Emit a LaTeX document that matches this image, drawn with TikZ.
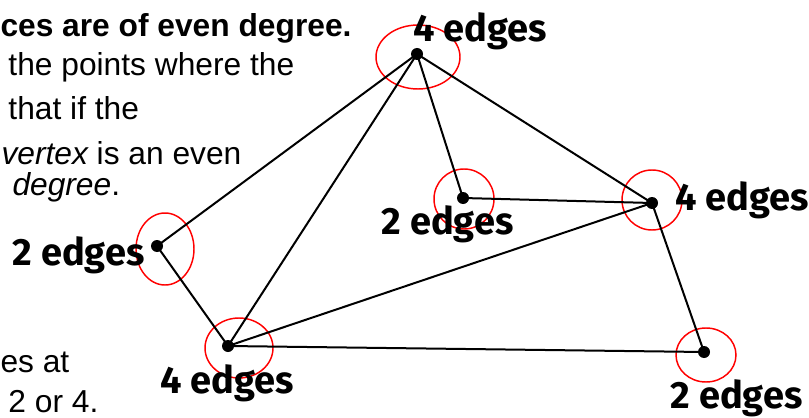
\documentclass[tikz,border=0pt]{standalone}
\usepackage{fontspec}
\setmainfont{Liberation Sans}
\newfontfamily\handfont{Fira Sans}

\tikzset{every picture/.style={line width=0.75pt}}
\tikzset{
  vdot/.style={circle,fill=black,inner sep=0pt,minimum size=9pt},
  edge/.style={line width=1.5pt},
  ring/.style={draw=red,line width=1.1pt},
  count/.style={anchor=base west,inner sep=0pt,font=\handfont\bfseries\fontsize{28.5}{33}\selectfont},
  prose/.style={anchor=base west,inner sep=0pt,font=\fontsize{23.8}{28}\selectfont}
}

\begin{document}
\begin{tikzpicture}[x=0.75pt,y=0.75pt,yscale=-1,xscale=1]
		\useasboundingbox (0,0) rectangle (809,417);
		
		% Text Node
		\node (l1) [prose] at (0,37) {\bfseries ces are of even degree.};
		% Text Node
		\node (l2) [prose] at (8,76) {the points where the};
		% Text Node
		\node (l3) [prose] at (8,120) {that if the};
		% Text Node
		\node (l4) [prose] at (1,164) {\itshape vertex\upshape{} is an even};
		% Text Node
		\node (l5) [prose] at (12,195) {\itshape degree\upshape.};
		% Text Node
		\node (l6) [prose] at (0,372) {es at};
		% Text Node
		\node (l7) [prose] at (8,412) {2 or 4.};
		
		%Ellipses
		\draw [ring] (418,57) ellipse (42 and 32);
		\draw [ring] (464,199) ellipse (30 and 30);
		\draw [ring] (652,200) ellipse (30 and 30);
		\draw [ring] (165,249) ellipse (29 and 36);
		\draw [ring] (239,348) ellipse (34 and 30);
		\draw [ring] (706,355) ellipse (30 and 27);
		
		% Vertices
		\node (top) [vdot] at (417,54) {};
		\node (mid) [vdot] at (463,198) {};
		\node (rgt) [vdot] at (652,203) {};
		\node (lft) [vdot] at (157,246) {};
		\node (bot) [vdot] at (228,346) {};
		\node (far) [vdot] at (704,352) {};
		
		%Straight Lines
		\draw [edge] (top.center) -- (lft.center);
		\draw [edge] (top.center) -- (bot.center);
		\draw [edge] (top.center) -- (mid.center);
		\draw [edge] (top.center) -- (rgt.center);
		\draw [edge] (mid.center) -- (rgt.center);
		\draw [edge] (lft.center) -- (bot.center);
		\draw [edge] (bot.center) -- (rgt.center);
		\draw [edge] (bot.center) -- (far.center);
		\draw [edge] (rgt.center) -- (far.center);
		
		% Text Node
		\node (n1) [count] at (413,42) {4 edges};
		% Text Node
		\node (n2) [count] at (381,234) {2 edges};
		% Text Node
		\node (n3) [count] at (675,210) {4 edges};
		% Text Node
		\node (n4) [count] at (12,265) {2 edges};
		% Text Node
		\node (n5) [count] at (160,393) {4 edges};
		% Text Node
		\node (n6) [count] at (670,408) {2 edges};
	\end{tikzpicture}
\end{document}
